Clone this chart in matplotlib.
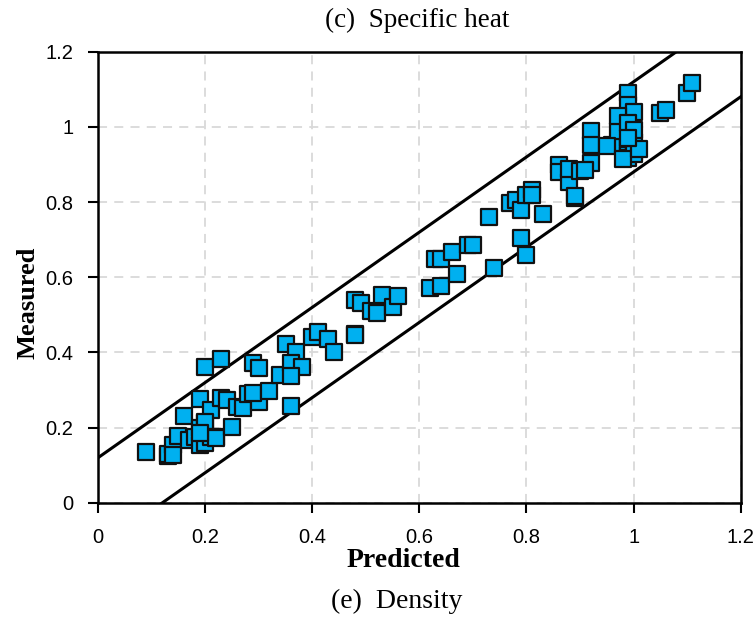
import numpy as np
import matplotlib
matplotlib.use('Agg')
import matplotlib.pyplot as plt
from matplotlib.ticker import MultipleLocator, FuncFormatter

plt.rcParams['font.family'] = ['Liberation Sans', 'DejaVu Sans']

# predicted / measured pairs
predicted = [0.09, 0.13, 0.13, 0.14, 0.14, 0.15, 0.16, 0.17, 0.18, 0.19,
             0.19, 0.20, 0.19, 0.20, 0.21, 0.20, 0.22, 0.21, 0.22, 0.23,
             0.24, 0.25, 0.26, 0.27, 0.28, 0.30, 0.29, 0.32, 0.29, 0.30,
             0.34, 0.35, 0.37, 0.40, 0.41, 0.43, 0.44, 0.48, 0.36, 0.38,
             0.36, 0.36, 0.20, 0.23, 0.19, 0.48, 0.49, 0.51, 0.52, 0.53,
             0.55, 0.56, 0.48, 0.62, 0.64, 0.67, 0.63, 0.64, 0.66, 0.69,
             0.70, 0.74, 0.79, 0.80, 0.73, 0.77, 0.78, 0.79, 0.80, 0.81,
             0.81, 0.83, 0.86, 0.86, 0.88, 0.88, 0.90, 0.89, 0.92, 0.91,
             0.96, 0.99, 0.99, 1.00, 0.99, 0.99, 0.99, 1.00, 0.97, 0.92,
             0.92, 0.95, 1.00, 1.00, 0.98, 1.01, 0.97, 1.05, 1.06, 1.10,
             1.11, 0.89, 0.99, 1.00, 0.99]
measured = [0.135, 0.125, 0.13, 0.155, 0.128, 0.178, 0.23, 0.168, 0.176, 0.20,
            0.154, 0.16, 0.275, 0.213, 0.247, 0.215, 0.176, 0.175, 0.173, 0.28,
            0.274, 0.202, 0.255, 0.253, 0.29, 0.269, 0.293, 0.298, 0.372, 0.359,
            0.34, 0.423, 0.402, 0.441, 0.455, 0.436, 0.402, 0.449, 0.372, 0.362,
            0.338, 0.258, 0.362, 0.383, 0.185, 0.54, 0.532, 0.51, 0.505, 0.553,
            0.521, 0.551, 0.447, 0.572, 0.577, 0.609, 0.649, 0.649, 0.668, 0.686,
            0.686, 0.625, 0.705, 0.66, 0.761, 0.798, 0.806, 0.78, 0.82, 0.832,
            0.819, 0.769, 0.899, 0.88, 0.854, 0.888, 0.883, 0.811, 0.904, 0.886,
            0.952, 0.957, 0.925, 0.934, 0.918, 1.09, 1.059, 1.04, 0.99, 0.99,
            0.952, 0.95, 0.96, 0.927, 0.915, 0.94, 1.03, 1.037, 1.045, 1.09,
            1.117, 0.816, 1.011, 0.992, 0.97]

band = 0.12
limits = [0, 1.2]

fig = plt.figure(figsize=(7.55, 6.23), dpi=100)
ax = fig.add_axes([0.130, 0.193, 0.851, 0.724])

ax.grid(True, color='#d9d9d9', linestyle=(0, (5, 4)), linewidth=1.3)
ax.set_axisbelow(True)

xs = np.array(limits)
ax.plot(xs, xs + band, color='black', lw=2.2, zorder=2)
ax.plot(xs, xs - band, color='black', lw=2.2, zorder=2)

ax.scatter(predicted, measured, marker='s', s=120, facecolor='#00b0f0',
           edgecolor='#111111', linewidths=1.6, zorder=3)

ax.set_xlim(limits)
ax.set_ylim(limits)
ax.xaxis.set_major_locator(MultipleLocator(0.2))
ax.yaxis.set_major_locator(MultipleLocator(0.2))
fmt = FuncFormatter(lambda v, p: ('%g' % round(v, 2)))
ax.xaxis.set_major_formatter(fmt)
ax.yaxis.set_major_formatter(fmt)
ax.tick_params(direction='out', length=7, width=1.5, labelsize=14.5, pad=11)

for s in ax.spines.values():
    s.set_linewidth(1.8)
    s.set_color('black')

serif = ['Liberation Serif', 'DejaVu Serif']
fig.text(0.535, 0.101, 'Predicted', fontsize=20, fontweight='bold',
         family=serif, ha='center', va='center')
fig.text(0.037, 0.514, 'Measured', fontsize=19, fontweight='bold',
         family=serif, ha='center', va='center', rotation=90)

fig.text(0.553, 0.968, '(c)  Specific heat', fontsize=19.5,
         family=serif, ha='center', va='center')
fig.text(0.525, 0.035, '(e)  Density', fontsize=20,
         family=serif, ha='center', va='center')

fig.savefig('out.png', dpi=100)
